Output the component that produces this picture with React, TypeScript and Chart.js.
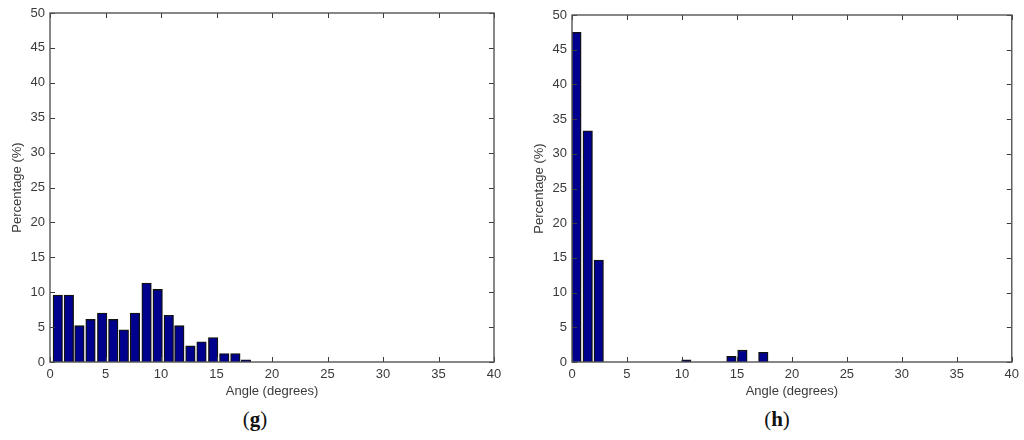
import { useEffect, useRef } from "react";
import { Chart, registerables } from "chart.js";

Chart.register(...registerables);

const leftAngles = [0.7, 1.7, 2.65, 3.65, 4.7, 5.7, 6.65, 7.65, 8.7, 9.7, 10.7, 11.65, 12.65, 13.65, 14.7, 15.7, 16.7, 17.65];
const leftValues = [9.6, 9.6, 5.2, 6.1, 7, 6.1, 4.6, 7, 11.3, 10.4, 6.7, 5.2, 2.3, 2.9, 3.5, 1.2, 1.2, 0.3];

const rightAngles = [0.4, 1.43, 2.43, 10.4, 14.5, 15.5, 17.4];
const rightValues = [47.5, 33.3, 14.7, 0.3, 0.8, 1.7, 1.4];

const xTicks = [0, 5, 10, 15, 20, 25, 30, 35, 40];
const yTicks = [0, 5, 10, 15, 20, 25, 30, 35, 40, 45, 50];

const TICK_COLOR = "#3a3a3a";
const CANVAS_HEIGHT = 399;
const PLOT_BOTTOM = 362;

// matlab style: ticks point into the box on all four sides
const inwardTicks = {
  id: "inwardTicks",
  afterDatasetsDraw(chart: any) {
    const { ctx, chartArea: a, scales } = chart;
    ctx.save();
    ctx.strokeStyle = TICK_COLOR;
    ctx.lineWidth = 1;
    ctx.beginPath();
    xTicks.forEach((t) => {
      const x = Math.round(scales.x.getPixelForValue(t)) + 0.5;
      ctx.moveTo(x, a.bottom);
      ctx.lineTo(x, a.bottom - 5);
      ctx.moveTo(x, a.top);
      ctx.lineTo(x, a.top + 5);
    });
    yTicks.forEach((t) => {
      const y = Math.round(scales.y.getPixelForValue(t)) + 0.5;
      ctx.moveTo(a.left, y);
      ctx.lineTo(a.left + 5, y);
      ctx.moveTo(a.right, y);
      ctx.lineTo(a.right - 5, y);
    });
    ctx.stroke();
    ctx.strokeStyle = "#555555";
    ctx.lineWidth = 1.4;
    ctx.strokeRect(a.left, a.top, a.right - a.left, a.bottom - a.top);
    ctx.restore();
  },
};

interface HistProps {
  angles: number[];
  values: number[];
  left: number;
  width: number;
  plotLeft: number;
  plotTop: number;
  plotRight: number;
  titleGap: number;
}

const Hist = ({ angles, values, left, width, plotLeft, plotTop, plotRight, titleGap }: HistProps) => {
  const canvasRef = useRef<HTMLCanvasElement>(null);

  useEffect(() => {
    if (!canvasRef.current) return;
    const chart = new Chart(canvasRef.current, {
      type: "bar",
      data: {
        datasets: [
          {
            data: angles.map((a, i) => ({ x: a, y: values[i] })),
            backgroundColor: "#00008f",
            borderColor: "#111111",
            borderWidth: 1.3,
            barThickness: 9.5,
          },
        ],
      },
      options: {
        animation: false,
        responsive: false,
        parsing: false as any,
        layout: {
          padding: { top: plotTop, right: width - plotRight, left: titleGap, bottom: 0 },
        },
        plugins: { legend: { display: false }, tooltip: { enabled: false } },
        scales: {
          x: {
            type: "linear",
            offset: false,
            min: 0,
            max: 40,
            grid: { display: false, drawTicks: false },
            border: { display: false },
            afterBuildTicks: (s: any) => {
              s.ticks = xTicks.map((value) => ({ value }));
            },
            afterFit: (s: any) => {
              s.height = CANVAS_HEIGHT - PLOT_BOTTOM;
            },
            ticks: {
              color: TICK_COLOR,
              font: { family: "Liberation Sans", size: 13 },
              padding: 5,
              maxRotation: 0,
            },
            title: {
              display: true,
              text: "Angle (degrees)",
              color: TICK_COLOR,
              font: { family: "Liberation Sans", size: 13 },
              padding: { top: 1, bottom: 0 },
            },
          },
          y: {
            min: 0,
            max: 50,
            grid: { display: false, drawTicks: false },
            border: { display: false },
            afterBuildTicks: (s: any) => {
              s.ticks = yTicks.map((value) => ({ value }));
            },
            afterFit: (s: any) => {
              s.width = plotLeft - titleGap;
            },
            ticks: {
              color: TICK_COLOR,
              font: { family: "Liberation Sans", size: 13 },
              padding: 5,
            },
            title: {
              display: true,
              text: "Percentage (%)",
              color: TICK_COLOR,
              font: { family: "Liberation Sans", size: 13 },
              padding: { top: 0, bottom: 4 },
            },
          },
        },
      },
      plugins: [inwardTicks],
    });
    return () => chart.destroy();
  }, []);

  return (
    <canvas
      ref={canvasRef}
      width={width}
      height={CANVAS_HEIGHT}
      style={{ position: "absolute", left, top: 0, width, height: CANVAS_HEIGHT }}
    />
  );
};

const captionStyle: React.CSSProperties = {
  position: "absolute",
  top: 407,
  width: 60,
  textAlign: "center",
  fontFamily: "Liberation Serif",
  fontSize: 21,
  lineHeight: "24px",
  color: "#111111",
};

export default function App() {
  return (
    <div style={{ position: "absolute", left: 0, top: 0, width: 1024, height: 440, background: "#ffffff", overflow: "hidden" }}>
      <Hist angles={leftAngles} values={leftValues} left={0} width={512} plotLeft={50} plotTop={13} plotRight={494} titleGap={10} />
      <Hist angles={rightAngles} values={rightValues} left={512} width={512} plotLeft={60} plotTop={15} plotRight={500} titleGap={20} />
      <div style={{ ...captionStyle, left: 225 }}>
        (<b>g</b>)
      </div>
      <div style={{ ...captionStyle, left: 747 }}>
        (<b>h</b>)
      </div>
    </div>
  );
}
